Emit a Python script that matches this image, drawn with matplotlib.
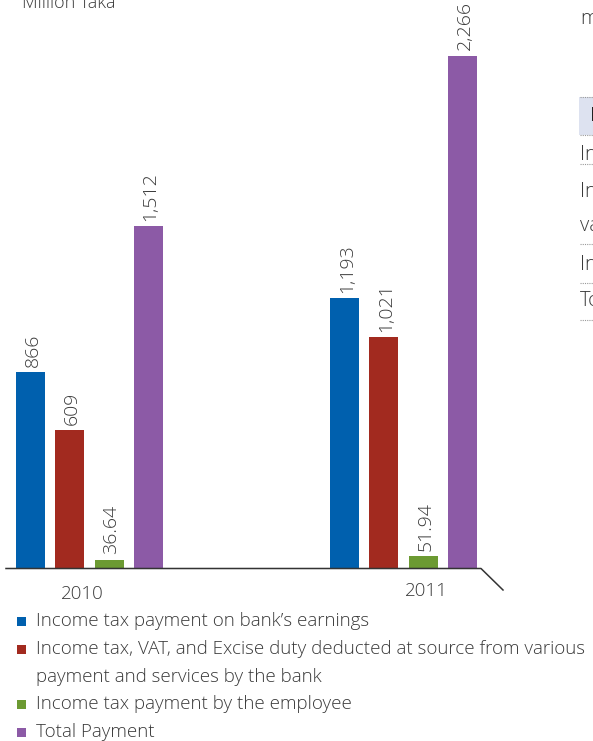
import matplotlib
matplotlib.use("Agg")
import matplotlib.pyplot as plt
from matplotlib.lines import Line2D
from matplotlib.patches import Rectangle

# ---- data -------------------------------------------------------------
years = ["2010", "2011"]
series_names = [
    ["Income tax payment on bank\u2019s earnings"],
    ["Income tax, VAT, and Excise duty deducted at source from various",
     "payment and services by the bank"],
    ["Income tax payment by the employee"],
    ["Total Payment"],
]
bank_earnings = [866, 1193]
deducted_at_source = [609, 1021]
employee_tax = [36.64, 51.94]
total_payment = [1512, 2266]
value_labels = [
    ["866", "1,193"],
    ["609", "1,021"],
    ["36.64", "51.94"],
    ["1,512", "2,266"],
]
series_values = [bank_earnings, deducted_at_source, employee_tax, total_payment]
colors = ["#0060AE", "#A22A1F", "#6C9A32", "#8C5AA6"]
unit_label = "Million Taka"

# ---- figure -------------------------------------------------------------
W, H = 593, 741
fig = plt.figure(figsize=(W / 100, H / 100), dpi=100)
fig.patch.set_facecolor("white")

FONT = ["Open Sans", "DejaVu Sans"]
TXT = "#3a3a3a"


def fx(px):
    return px / W


def fy(py):
    return 1 - py / H


base_px = 568
top_px = 3
ax = fig.add_axes([0, fy(base_px), 1, (base_px - top_px) / H])
ax.set_ylim(0, 2500)
ax.set_xlim(-0.285, 1.6035)
ax.axis("off")

step = 0.125
width = 0.0924
for i, (vals, col, labs) in enumerate(zip(series_values, colors, value_labels)):
    xs = [g + (i - 1.5) * step for g in range(len(years))]
    ax.bar(xs, vals, width=width, color=col, linewidth=0)
    for x, v, lab in zip(xs, vals, labs):
        ax.annotate(lab, (x, v), xytext=(1.5, 4), textcoords="offset points",
                    rotation=90, ha="center", va="bottom", fontsize=14,
                    color=TXT, family=FONT, fontweight="light")

# base line with perspective tail
fig.add_artist(Line2D([fx(6), fx(481), fx(503)], [fy(568.5), fy(568.5), fy(590)],
                      color="#333333", lw=1.1))

# year labels
year_pos = [(82, 594), (426, 591)]
for yr, (px, py) in zip(years, year_pos):
    fig.text(fx(px), fy(py), yr, ha="center", va="center", fontsize=13.5,
             color=TXT, family=FONT, fontweight="light")

# unit label
fig.text(fx(22), fy(3), unit_label, ha="left", va="center", fontsize=13,
         color=TXT, family=FONT, fontweight="light")

# legend
legend_rows = [621, 649, 704, 732]
line_gap = 28
for lines, col, py in zip(series_names, colors, legend_rows):
    fig.add_artist(Rectangle((fx(17), fy(py + 4.5)), fx(9), 9 / H,
                             transform=fig.transFigure, color=col, lw=0))
    for k, line in enumerate(lines):
        fig.text(fx(36), fy(py + k * line_gap), line, ha="left", va="center",
                 fontsize=13.5, color=TXT, family=FONT, fontweight="light")

# adjoining table fragment on the right
fig.text(fx(580), fy(19), "mn", ha="left", va="center", fontsize=14.5,
         color=TXT, family=FONT, fontweight="light")
fig.add_artist(Rectangle((fx(579), fy(135)), fx(20), 38 / H,
                         transform=fig.transFigure, color="#DDE2F0", lw=0))
fig.text(fx(590), fy(116), "Particulars", ha="left", va="center", fontsize=14.5,
         color="#222222", family=FONT)
row_text = [("Income", 155), ("Income", 192), ("value", 226), ("Income", 265), ("Total", 301)]
for t, py in row_text:
    fig.text(fx(580), fy(py), t, ha="left", va="center", fontsize=14.5,
             color=TXT, family=FONT, fontweight="light")
for py in [97, 135, 164, 244, 283, 320]:
    fig.add_artist(Line2D([fx(580), fx(594)], [fy(py), fy(py)], color="#9a9a9a",
                          lw=0.8, linestyle=(0, (1, 1))))

fig.savefig("out.png", dpi=100, facecolor="white")
